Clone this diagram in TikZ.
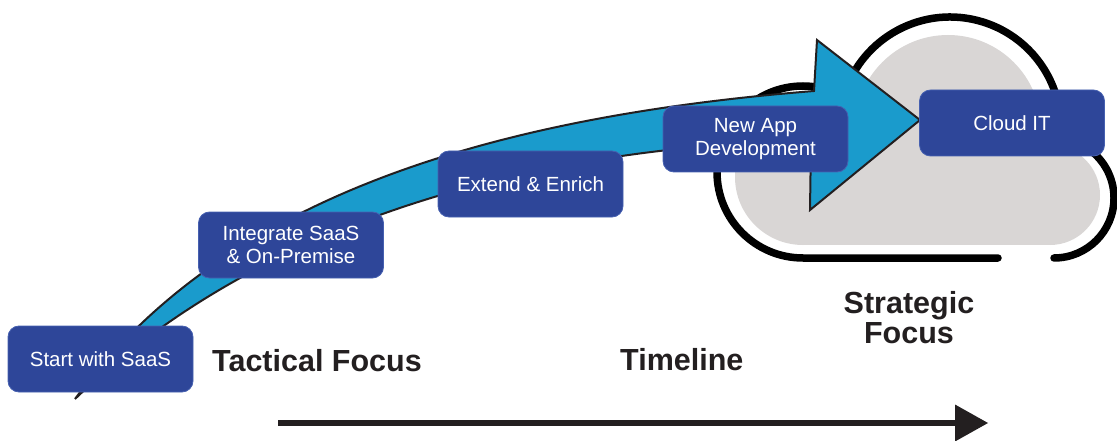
\documentclass[tikz,border=0pt]{standalone}
\usepackage{fontspec}
\setmainfont{Liberation Sans}
\usetikzlibrary{calc}
\definecolor{boxblue}{RGB}{46,70,153}
\definecolor{boxedge}{RGB}{70,96,176}
\definecolor{arrowblue}{RGB}{26,155,204}
\definecolor{ink}{RGB}{35,31,32}
\definecolor{cloudgray}{RGB}{217,214,213}
\begin{document}
\begin{tikzpicture}[x=1pt,y=-1pt,
  stepbox/.style={rounded corners=11pt, fill=boxblue, draw=boxedge, line width=0.8pt,
    minimum width=185pt, minimum height=66pt, inner sep=0pt, text=white, align=center,
    font=\fontsize{20.5}{23.5}\selectfont},
  titletext/.style={font=\fontsize{30.5}{30}\selectfont\bfseries, text=ink, inner sep=0pt, align=center},
  cloudline/.style={draw=black, line width=7.5pt, line cap=round},
  bigarrow/.style={fill=arrowblue, draw=ink, line width=2pt, line join=miter},
  timeline/.style={draw=ink, line width=5.5pt}
]
\useasboundingbox (0,0) rectangle (1117,441);
% cloud fill
\fill[cloudgray] (948,128) circle[radius=93];
\fill[cloudgray] (803,177) circle[radius=68];
\fill[cloudgray] (1050,195) circle[radius=50];
\fill[cloudgray] (803,128) rectangle (1050,245);
% cloud outline
\draw[cloudline] (998,258) -- (803,258) arc[start angle=90, end angle=302, radius=86];
\draw[cloudline] ([shift={(950,128)}]197:111) arc[start angle=197, end angle=350, radius=111];
\draw[cloudline] (1054,258) arc[start angle=90, end angle=-50, radius=60];
% big curved arrow
\draw[bigarrow] (75,399) .. controls (210,215) and (450,120) .. (814,91) -- (817,40) -- (920,120)
  -- (810,210) -- (811,140) .. controls (470,150) and (230,250) .. cycle;
% step boxes
\node[stepbox] (start) at (100.5,359) {Start with SaaS};
\node[stepbox] (integrate) at (291,245) {Integrate SaaS\\\& On-Premise};
\node[stepbox] (extend) at (530.5,184) {Extend \& Enrich};
\node[stepbox] (newapp) at (755.5,139) {New App\\Development};
\node[stepbox] (cloud) at (1012,123) {Cloud IT};
% labels
\node[titletext, anchor=base west] (tactical) at (212,371) {Tactical Focus};
\node[titletext, anchor=base west] (timelbl) at (620,370) {Timeline};
\node[titletext, anchor=center] (strategic) at (909,318) {Strategic\\Focus};
% timeline arrow
\coordinate (tl-s) at (278,423);
\coordinate (tl-b) at (956,423);
\coordinate (tl-e) at (988,423);
\draw[timeline] (tl-s) -- (tl-b);
\fill[ink] (tl-e) -- (955,404.5) -- (955,441.5) -- cycle;
\end{tikzpicture}
\end{document}
